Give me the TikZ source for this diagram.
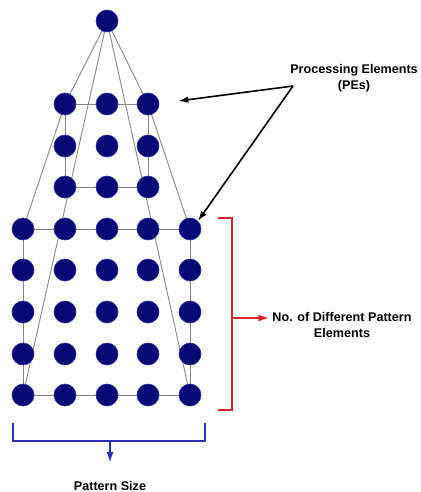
\documentclass[tikz,border=0pt]{standalone}
\usepackage{fontspec}
\setmainfont{Liberation Sans}
\usetikzlibrary{positioning,arrows.meta,backgrounds}
\definecolor{peblue}{RGB}{8,8,118}
\definecolor{peedge}{RGB}{40,40,165}
\definecolor{linkgray}{RGB}{135,135,135}
\definecolor{markred}{RGB}{212,38,38}
\definecolor{markblue}{RGB}{38,50,185}
\tikzset{
  pe/.style={circle, fill=peblue, draw=peedge, line width=0.6pt,
    minimum size=22pt, inner sep=0pt},
  link/.style={draw=linkgray, line width=0.9pt},
  pointer/.style={draw=black, line width=1.6pt, -{Latex[length=10pt,width=6.5pt]}},
  redmark/.style={draw=markred, line width=1.7pt},
  bluemark/.style={draw=markblue, line width=1.7pt},
  headed/.style={-{Latex[length=11pt,width=7pt]}},
  caption/.style={font=\bfseries\fontsize{12.6}{15.5}\selectfont, align=center, inner sep=0pt}
}

\begin{document}
\begin{tikzpicture}[x=1pt,y=-1pt]
  \useasboundingbox (0,0) rectangle (420,492);
  % top PE
  \node[pe] (apex) at (107,21) {};
  % upper 3x3 block
  \foreach \c/\x in {1/65,2/107,3/148}
    \foreach \r/\y in {1/104,2/146,3/187}
      \node[pe] (u\r\c) at (\x,\y) {};
  % lower 5x5 block
  \foreach \c/\x in {1/23,2/65,3/107,4/148,5/190}
    \foreach \r/\y in {1/229,2/270,3/312,4/354,5/395}
      \node[pe] (l\r\c) at (\x,\y) {};

  \begin{scope}[on background layer]
    \draw[link] (apex.center) -- (u11.center);
    \draw[link] (apex.center) -- (u13.center);
    \draw[link] (apex.center) -- (l51.center);
    \draw[link] (apex.center) -- (l55.center);
    \draw[link] (u11.center) -- (u13.center) -- (u33.center) -- (u31.center) -- cycle;
    \draw[link] (u11.center) -- (l11.center);
    \draw[link] (u13.center) -- (l15.center);
    \draw[link] (l11.center) -- (l15.center) -- (l55.center) -- (l51.center) -- cycle;
  \end{scope}

  % processing elements label
  \node[caption] (pelabel) at (354,78) {Processing Elements\\(PEs)};
  \coordinate (pesrc) at (293,86);
  \coordinate[right=19pt of u13, yshift=3pt] (petip);
  \draw[pointer] (pesrc) -- (petip);
  \draw[pointer] (pesrc) -- (l15.north east);

  % no. of elements
  \draw[redmark] (218,218) -- (232,218) -- (232,410) -- (218,410);
  \coordinate (redsrc) at (232,318);
  \node[caption] (countlabel) at (342,325) {No. of Different Pattern\\Elements};
  \draw[redmark, headed] (redsrc) -- ([xshift=-3pt]countlabel.west |- redsrc);

  % pattern size
  \draw[bluemark] (13,423) -- (13,441) -- (205,441) -- (205,423);
  \coordinate (bluesrc) at (110,441);
  \node[caption] (sizelabel) at (110,486) {Pattern Size};
  \draw[bluemark, headed] (bluesrc) -- (110,463);
\end{tikzpicture}
\end{document}
